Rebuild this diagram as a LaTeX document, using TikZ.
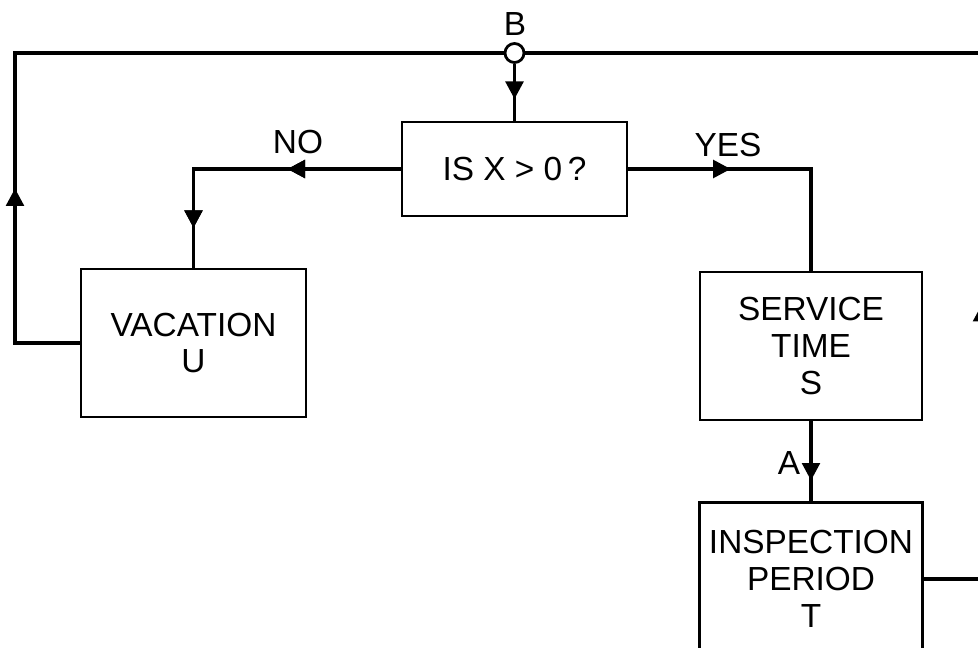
\documentclass[tikz,border=0pt]{standalone}
\usepackage{fontspec}
\setmainfont{Liberation Sans}
\usetikzlibrary{arrows.meta,positioning,decorations.markings}

\begin{document}
\begin{tikzpicture}[
    x=0.02cm, y=-0.02cm,
    font=\fontsize{19}{21}\selectfont,
    node distance=1.6cm,
    block/.style={draw, line width=1.6pt, minimum width=4.5cm, minimum height=2.96cm, align=center, inner sep=0pt},
    flow/.style={line width=2.1pt},
    midarrow/.style={postaction={decorate}, decoration={markings, mark=at position #1 with {\arrow{Triangle[length=10pt, width=10pt]}}}},
    junction/.style={draw, circle, fill=white, line width=1.6pt, minimum size=0.38cm, inner sep=0pt},
    tag/.style={inner sep=0pt}
]
\useasboundingbox (0,0) rectangle (978,648);
\clip (0,0) rectangle (978,648);

\node[block, minimum height=1.88cm] (test) at (514.5,169) {IS X > 0\,?};
\node[block] (vac) at (193.5,343) {VACATION\\U};
\node[block, minimum width=4.44cm] (serv) at (811,346) {SERVICE\\TIME\\S};
\node[block, minimum width=4.46cm, minimum height=3.04cm, below=1.6cm of serv] (insp) {INSPECTION\\PERIOD\\T};
\node[junction] (bj) at (514.5,53) {};

\coordinate (tl) at (15,53);
\coordinate (tr) at (982,53);
\coordinate (rb) at (insp.east -| tr);

% labels
\node[tag] (blab) at (515,24) {B};
\node[tag] (nolab) at (298,142) {NO};
\node[tag] (yeslab) at (728,145) {YES};
\node[tag] (alab) at (789,463) {A};

% connectors
\draw[flow, midarrow=0.62] (bj.south) -- (test.north);
\draw[flow, midarrow=0.37, midarrow=0.87] (test.west) -| (vac.north);
\draw[flow, midarrow=0.36] (test.east) -| (serv.north);
\draw[flow, midarrow=0.74] (serv.south) -- (insp.north);
\draw[flow, midarrow=0.26] (vac.west) -| (tl) -- (bj.west);
\draw[flow, midarrow=0.32] (insp.east) -- (rb) -- (tr) -- (bj.east);
\end{tikzpicture}
\end{document}
